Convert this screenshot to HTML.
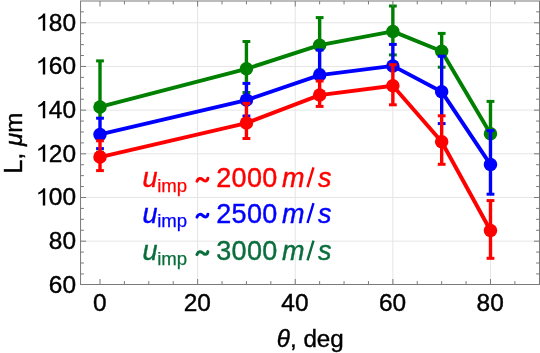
<!DOCTYPE html>
<html><head><meta charset="utf-8"><title>chart</title>
<style>html,body{margin:0;padding:0;background:#fff;}body{width:540px;height:353px;overflow:hidden;position:relative;font-family:"Liberation Sans",sans-serif;}</style></head>
<body>
<svg width="540" height="353" viewBox="0 0 540 353" style="position:absolute;left:0;top:0;will-change:transform">
<rect x="0" y="0" width="540" height="353" fill="#ffffff"/>
<g stroke="#e5e5e5" stroke-width="1" fill="none">
<line x1="197.62" y1="1.0" x2="197.62" y2="284.5"/>
<line x1="295.24" y1="1.0" x2="295.24" y2="284.5"/>
<line x1="392.86" y1="1.0" x2="392.86" y2="284.5"/>
<line x1="490.48" y1="1.0" x2="490.48" y2="284.5"/>
<line x1="80.55" y1="241.17" x2="539.5" y2="241.17"/>
<line x1="80.55" y1="197.49" x2="539.5" y2="197.49"/>
<line x1="80.55" y1="153.81" x2="539.5" y2="153.81"/>
<line x1="80.55" y1="110.13" x2="539.5" y2="110.13"/>
<line x1="80.55" y1="66.45" x2="539.5" y2="66.45"/>
<line x1="80.55" y1="22.77" x2="539.5" y2="22.77"/>
</g>
<g stroke="#008000" fill="#008000">
<path d="M100.00,106.90 L246.43,68.80 L319.64,45.20 L392.86,31.40 L441.67,51.30 L490.48,133.80" fill="none" stroke-width="3.9" stroke-linejoin="round"/>
<line x1="100.00" y1="60.90" x2="100.00" y2="119.20" stroke-width="3.4"/>
<rect x="96.10" y="59.40" width="7.8" height="3.0" stroke="none"/>
<rect x="96.10" y="150.80" width="7.8" height="3.0" stroke="none"/>
<circle cx="100.00" cy="106.90" r="6.75" stroke="none"/>
<line x1="246.43" y1="41.50" x2="246.43" y2="84.40" stroke-width="3.4"/>
<rect x="242.53" y="40.00" width="7.8" height="3.0" stroke="none"/>
<rect x="242.53" y="91.00" width="7.8" height="3.0" stroke="none"/>
<circle cx="246.43" cy="68.80" r="6.75" stroke="none"/>
<line x1="319.64" y1="17.60" x2="319.64" y2="51.00" stroke-width="3.4"/>
<rect x="315.75" y="16.10" width="7.8" height="3.0" stroke="none"/>
<rect x="315.75" y="68.60" width="7.8" height="3.0" stroke="none"/>
<circle cx="319.64" cy="45.20" r="6.75" stroke="none"/>
<line x1="392.86" y1="6.00" x2="392.86" y2="45.40" stroke-width="3.4"/>
<rect x="388.96" y="4.50" width="7.8" height="3.0" stroke="none"/>
<rect x="388.96" y="53.40" width="7.8" height="3.0" stroke="none"/>
<circle cx="392.86" cy="31.40" r="6.75" stroke="none"/>
<line x1="441.67" y1="33.40" x2="441.67" y2="57.20" stroke-width="3.4"/>
<rect x="437.77" y="31.90" width="7.8" height="3.0" stroke="none"/>
<rect x="437.77" y="65.70" width="7.8" height="3.0" stroke="none"/>
<circle cx="441.67" cy="51.30" r="6.75" stroke="none"/>
<line x1="490.48" y1="101.40" x2="490.48" y2="131.60" stroke-width="3.4"/>
<rect x="486.58" y="99.90" width="7.8" height="3.0" stroke="none"/>
<rect x="486.58" y="164.70" width="7.8" height="3.0" stroke="none"/>
<circle cx="490.48" cy="133.80" r="6.75" stroke="none"/>
</g>
<g stroke="#0000ff" fill="#0000ff">
<path d="M100.00,134.40 L246.43,100.10 L319.64,75.10 L392.86,65.90 L441.67,91.70 L490.48,164.60" fill="none" stroke-width="3.9" stroke-linejoin="round"/>
<line x1="100.00" y1="118.20" x2="100.00" y2="141.80" stroke-width="3.4"/>
<rect x="96.10" y="116.70" width="7.8" height="3.0" stroke="none"/>
<rect x="96.10" y="147.10" width="7.8" height="3.0" stroke="none"/>
<circle cx="100.00" cy="134.40" r="6.75" stroke="none"/>
<line x1="246.43" y1="83.40" x2="246.43" y2="104.40" stroke-width="3.4"/>
<rect x="242.53" y="81.90" width="7.8" height="3.0" stroke="none"/>
<rect x="242.53" y="114.50" width="7.8" height="3.0" stroke="none"/>
<circle cx="246.43" cy="100.10" r="6.75" stroke="none"/>
<line x1="319.64" y1="50.00" x2="319.64" y2="82.00" stroke-width="3.4"/>
<rect x="315.75" y="48.50" width="7.8" height="3.0" stroke="none"/>
<rect x="315.75" y="96.50" width="7.8" height="3.0" stroke="none"/>
<circle cx="319.64" cy="75.10" r="6.75" stroke="none"/>
<line x1="392.86" y1="44.40" x2="392.86" y2="65.70" stroke-width="3.4"/>
<rect x="388.96" y="42.90" width="7.8" height="3.0" stroke="none"/>
<rect x="388.96" y="85.80" width="7.8" height="3.0" stroke="none"/>
<circle cx="392.86" cy="65.90" r="6.75" stroke="none"/>
<line x1="441.67" y1="56.20" x2="441.67" y2="116.80" stroke-width="3.4"/>
<rect x="437.77" y="54.70" width="7.8" height="3.0" stroke="none"/>
<rect x="437.77" y="122.10" width="7.8" height="3.0" stroke="none"/>
<circle cx="441.67" cy="91.70" r="6.75" stroke="none"/>
<line x1="490.48" y1="130.60" x2="490.48" y2="194.20" stroke-width="3.4"/>
<rect x="486.58" y="129.10" width="7.8" height="3.0" stroke="none"/>
<rect x="486.58" y="192.70" width="7.8" height="3.0" stroke="none"/>
<circle cx="490.48" cy="164.60" r="6.75" stroke="none"/>
</g>
<g stroke="#ff0000" fill="#ff0000">
<path d="M100.00,157.10 L246.43,123.10 L319.64,95.10 L392.86,85.70 L441.67,141.80 L490.48,230.50" fill="none" stroke-width="3.9" stroke-linejoin="round"/>
<line x1="100.00" y1="140.80" x2="100.00" y2="170.60" stroke-width="3.4"/>
<rect x="96.10" y="139.30" width="7.8" height="3.0" stroke="none"/>
<rect x="96.10" y="169.10" width="7.8" height="3.0" stroke="none"/>
<circle cx="100.00" cy="157.10" r="6.75" stroke="none"/>
<line x1="246.43" y1="103.40" x2="246.43" y2="138.50" stroke-width="3.4"/>
<rect x="242.53" y="101.90" width="7.8" height="3.0" stroke="none"/>
<rect x="242.53" y="137.00" width="7.8" height="3.0" stroke="none"/>
<circle cx="246.43" cy="123.10" r="6.75" stroke="none"/>
<line x1="319.64" y1="81.00" x2="319.64" y2="106.40" stroke-width="3.4"/>
<rect x="315.75" y="79.50" width="7.8" height="3.0" stroke="none"/>
<rect x="315.75" y="104.90" width="7.8" height="3.0" stroke="none"/>
<circle cx="319.64" cy="95.10" r="6.75" stroke="none"/>
<line x1="392.86" y1="64.70" x2="392.86" y2="104.80" stroke-width="3.4"/>
<rect x="388.96" y="63.20" width="7.8" height="3.0" stroke="none"/>
<rect x="388.96" y="103.30" width="7.8" height="3.0" stroke="none"/>
<circle cx="392.86" cy="85.70" r="6.75" stroke="none"/>
<line x1="441.67" y1="115.80" x2="441.67" y2="164.30" stroke-width="3.4"/>
<rect x="437.77" y="114.30" width="7.8" height="3.0" stroke="none"/>
<rect x="437.77" y="162.80" width="7.8" height="3.0" stroke="none"/>
<circle cx="441.67" cy="141.80" r="6.75" stroke="none"/>
<line x1="490.48" y1="200.60" x2="490.48" y2="258.30" stroke-width="3.4"/>
<rect x="486.58" y="199.10" width="7.8" height="3.0" stroke="none"/>
<rect x="486.58" y="256.80" width="7.8" height="3.0" stroke="none"/>
<circle cx="490.48" cy="230.50" r="6.75" stroke="none"/>
</g>
<g stroke="#7a7a7a" stroke-width="1" fill="none">
<rect x="80.55" y="1.0" width="458.95" height="283.5"/>
<line x1="100.00" y1="284.5" x2="100.00" y2="279.0"/>
<line x1="100.00" y1="1.0" x2="100.00" y2="6.5"/>
<line x1="124.41" y1="284.5" x2="124.41" y2="281.1"/>
<line x1="124.41" y1="1.0" x2="124.41" y2="4.4"/>
<line x1="148.81" y1="284.5" x2="148.81" y2="281.1"/>
<line x1="148.81" y1="1.0" x2="148.81" y2="4.4"/>
<line x1="173.22" y1="284.5" x2="173.22" y2="281.1"/>
<line x1="173.22" y1="1.0" x2="173.22" y2="4.4"/>
<line x1="197.62" y1="284.5" x2="197.62" y2="279.0"/>
<line x1="197.62" y1="1.0" x2="197.62" y2="6.5"/>
<line x1="222.03" y1="284.5" x2="222.03" y2="281.1"/>
<line x1="222.03" y1="1.0" x2="222.03" y2="4.4"/>
<line x1="246.43" y1="284.5" x2="246.43" y2="281.1"/>
<line x1="246.43" y1="1.0" x2="246.43" y2="4.4"/>
<line x1="270.84" y1="284.5" x2="270.84" y2="281.1"/>
<line x1="270.84" y1="1.0" x2="270.84" y2="4.4"/>
<line x1="295.24" y1="284.5" x2="295.24" y2="279.0"/>
<line x1="295.24" y1="1.0" x2="295.24" y2="6.5"/>
<line x1="319.64" y1="284.5" x2="319.64" y2="281.1"/>
<line x1="319.64" y1="1.0" x2="319.64" y2="4.4"/>
<line x1="344.05" y1="284.5" x2="344.05" y2="281.1"/>
<line x1="344.05" y1="1.0" x2="344.05" y2="4.4"/>
<line x1="368.46" y1="284.5" x2="368.46" y2="281.1"/>
<line x1="368.46" y1="1.0" x2="368.46" y2="4.4"/>
<line x1="392.86" y1="284.5" x2="392.86" y2="279.0"/>
<line x1="392.86" y1="1.0" x2="392.86" y2="6.5"/>
<line x1="417.26" y1="284.5" x2="417.26" y2="281.1"/>
<line x1="417.26" y1="1.0" x2="417.26" y2="4.4"/>
<line x1="441.67" y1="284.5" x2="441.67" y2="281.1"/>
<line x1="441.67" y1="1.0" x2="441.67" y2="4.4"/>
<line x1="466.08" y1="284.5" x2="466.08" y2="281.1"/>
<line x1="466.08" y1="1.0" x2="466.08" y2="4.4"/>
<line x1="490.48" y1="284.5" x2="490.48" y2="279.0"/>
<line x1="490.48" y1="1.0" x2="490.48" y2="6.5"/>
<line x1="514.88" y1="284.5" x2="514.88" y2="281.1"/>
<line x1="514.88" y1="1.0" x2="514.88" y2="4.4"/>
<line x1="80.55" y1="273.93" x2="83.95" y2="273.93"/>
<line x1="539.5" y1="273.93" x2="536.1" y2="273.93"/>
<line x1="80.55" y1="263.01" x2="83.95" y2="263.01"/>
<line x1="539.5" y1="263.01" x2="536.1" y2="263.01"/>
<line x1="80.55" y1="252.09" x2="83.95" y2="252.09"/>
<line x1="539.5" y1="252.09" x2="536.1" y2="252.09"/>
<line x1="80.55" y1="241.17" x2="86.05" y2="241.17"/>
<line x1="539.5" y1="241.17" x2="534.0" y2="241.17"/>
<line x1="80.55" y1="230.25" x2="83.95" y2="230.25"/>
<line x1="539.5" y1="230.25" x2="536.1" y2="230.25"/>
<line x1="80.55" y1="219.33" x2="83.95" y2="219.33"/>
<line x1="539.5" y1="219.33" x2="536.1" y2="219.33"/>
<line x1="80.55" y1="208.41" x2="83.95" y2="208.41"/>
<line x1="539.5" y1="208.41" x2="536.1" y2="208.41"/>
<line x1="80.55" y1="197.49" x2="86.05" y2="197.49"/>
<line x1="539.5" y1="197.49" x2="534.0" y2="197.49"/>
<line x1="80.55" y1="186.57" x2="83.95" y2="186.57"/>
<line x1="539.5" y1="186.57" x2="536.1" y2="186.57"/>
<line x1="80.55" y1="175.65" x2="83.95" y2="175.65"/>
<line x1="539.5" y1="175.65" x2="536.1" y2="175.65"/>
<line x1="80.55" y1="164.73" x2="83.95" y2="164.73"/>
<line x1="539.5" y1="164.73" x2="536.1" y2="164.73"/>
<line x1="80.55" y1="153.81" x2="86.05" y2="153.81"/>
<line x1="539.5" y1="153.81" x2="534.0" y2="153.81"/>
<line x1="80.55" y1="142.89" x2="83.95" y2="142.89"/>
<line x1="539.5" y1="142.89" x2="536.1" y2="142.89"/>
<line x1="80.55" y1="131.97" x2="83.95" y2="131.97"/>
<line x1="539.5" y1="131.97" x2="536.1" y2="131.97"/>
<line x1="80.55" y1="121.05" x2="83.95" y2="121.05"/>
<line x1="539.5" y1="121.05" x2="536.1" y2="121.05"/>
<line x1="80.55" y1="110.13" x2="86.05" y2="110.13"/>
<line x1="539.5" y1="110.13" x2="534.0" y2="110.13"/>
<line x1="80.55" y1="99.21" x2="83.95" y2="99.21"/>
<line x1="539.5" y1="99.21" x2="536.1" y2="99.21"/>
<line x1="80.55" y1="88.29" x2="83.95" y2="88.29"/>
<line x1="539.5" y1="88.29" x2="536.1" y2="88.29"/>
<line x1="80.55" y1="77.37" x2="83.95" y2="77.37"/>
<line x1="539.5" y1="77.37" x2="536.1" y2="77.37"/>
<line x1="80.55" y1="66.45" x2="86.05" y2="66.45"/>
<line x1="539.5" y1="66.45" x2="534.0" y2="66.45"/>
<line x1="80.55" y1="55.53" x2="83.95" y2="55.53"/>
<line x1="539.5" y1="55.53" x2="536.1" y2="55.53"/>
<line x1="80.55" y1="44.61" x2="83.95" y2="44.61"/>
<line x1="539.5" y1="44.61" x2="536.1" y2="44.61"/>
<line x1="80.55" y1="33.69" x2="83.95" y2="33.69"/>
<line x1="539.5" y1="33.69" x2="536.1" y2="33.69"/>
<line x1="80.55" y1="22.77" x2="86.05" y2="22.77"/>
<line x1="539.5" y1="22.77" x2="534.0" y2="22.77"/>
<line x1="80.55" y1="11.85" x2="83.95" y2="11.85"/>
<line x1="539.5" y1="11.85" x2="536.1" y2="11.85"/>
</g>
<g font-family="'Liberation Sans', sans-serif" font-size="23.5" fill="#000" stroke="#000" stroke-width="0.4">
<text transform="translate(69.25,292.85) scale(1.04,1)" text-anchor="middle">0</text>
<text transform="translate(55.58,292.85) scale(1.04,1)" text-anchor="middle">6</text>
<text transform="translate(69.25,249.17) scale(1.04,1)" text-anchor="middle">0</text>
<text transform="translate(55.58,249.17) scale(1.04,1)" text-anchor="middle">8</text>
<text transform="translate(69.25,205.49) scale(1.04,1)" text-anchor="middle">0</text>
<text transform="translate(55.58,205.49) scale(1.04,1)" text-anchor="middle">0</text>
<path stroke="none" d="M45.21,188.29 L45.21,205.49 L42.81,205.49 L42.81,192.29 C41.51,193.29 39.91,194.09 38.31,194.59 L38.31,192.49 C40.51,191.59 42.51,190.09 43.41,188.29 Z"/>
<text transform="translate(69.25,161.81) scale(1.04,1)" text-anchor="middle">0</text>
<text transform="translate(55.58,161.81) scale(1.04,1)" text-anchor="middle">2</text>
<path stroke="none" d="M45.21,144.61 L45.21,161.81 L42.81,161.81 L42.81,148.61 C41.51,149.61 39.91,150.41 38.31,150.91 L38.31,148.81 C40.51,147.91 42.51,146.41 43.41,144.61 Z"/>
<text transform="translate(69.25,118.13) scale(1.04,1)" text-anchor="middle">0</text>
<text transform="translate(55.58,118.13) scale(1.04,1)" text-anchor="middle">4</text>
<path stroke="none" d="M45.21,100.93 L45.21,118.13 L42.81,118.13 L42.81,104.93 C41.51,105.93 39.91,106.73 38.31,107.23 L38.31,105.13 C40.51,104.23 42.51,102.73 43.41,100.93 Z"/>
<text transform="translate(69.25,74.45) scale(1.04,1)" text-anchor="middle">0</text>
<text transform="translate(55.58,74.45) scale(1.04,1)" text-anchor="middle">6</text>
<path stroke="none" d="M45.21,57.25 L45.21,74.45 L42.81,74.45 L42.81,61.25 C41.51,62.25 39.91,63.05 38.31,63.55 L38.31,61.45 C40.51,60.55 42.51,59.05 43.41,57.25 Z"/>
<text transform="translate(69.25,30.77) scale(1.04,1)" text-anchor="middle">0</text>
<text transform="translate(55.58,30.77) scale(1.04,1)" text-anchor="middle">8</text>
<path stroke="none" d="M45.21,13.57 L45.21,30.77 L42.81,30.77 L42.81,17.57 C41.51,18.57 39.91,19.37 38.31,19.87 L38.31,17.77 C40.51,16.87 42.51,15.37 43.41,13.57 Z"/>
<text transform="translate(99.70,310.50) scale(1.04,1)" text-anchor="middle">0</text>
<text transform="translate(190.48,310.50) scale(1.04,1)" text-anchor="middle">2</text>
<text transform="translate(204.16,310.50) scale(1.04,1)" text-anchor="middle">0</text>
<text transform="translate(288.11,310.50) scale(1.04,1)" text-anchor="middle">4</text>
<text transform="translate(301.77,310.50) scale(1.04,1)" text-anchor="middle">0</text>
<text transform="translate(385.73,310.50) scale(1.04,1)" text-anchor="middle">6</text>
<text transform="translate(399.39,310.50) scale(1.04,1)" text-anchor="middle">0</text>
<text transform="translate(483.35,310.50) scale(1.04,1)" text-anchor="middle">8</text>
<text transform="translate(497.01,310.50) scale(1.04,1)" text-anchor="middle">0</text>
<text x="310.3" y="346.9" font-size="24.2" text-anchor="middle"><tspan font-style="italic">θ</tspan>, deg</text>
<text transform="translate(21.7,143.2) rotate(-90)" font-size="24.2" text-anchor="middle"><tspan font-size="25.4">L</tspan>, <tspan font-style="italic">μ</tspan>m</text>
</g>
<g font-family="'Liberation Sans', sans-serif" font-size="27.0">
<g fill="#ff0000" stroke="#ff0000" stroke-width="0.4">
<text x="142.6" y="186.7" font-style="italic">u</text>
<text x="157.2" y="191.5" font-size="18.6" stroke-width="0.25">imp</text>
<path d="M197.0,181.20 C198.3,177.60 200.9,178.10 202.6,179.50 C204.6,181.60 207.2,181.90 207.9,178.30" fill="none" stroke="#ff0000" stroke-width="3.0" stroke-linecap="round"/>
<text x="216.2" y="186.7" letter-spacing="0.35">2000</text>
<text x="281.9" y="186.7" font-style="italic">m</text>
<line x1="307.5" y1="187.10" x2="313.5" y2="167.30" stroke="#ff0000" stroke-width="2.4"/>
<text x="318.1" y="186.7" font-style="italic">s</text>
</g>
<g fill="#0000ff" stroke="#0000ff" stroke-width="0.4">
<text x="142.6" y="222.6" font-style="italic">u</text>
<text x="157.2" y="227.4" font-size="18.6" stroke-width="0.25">imp</text>
<path d="M197.0,217.10 C198.3,213.50 200.9,214.00 202.6,215.40 C204.6,217.50 207.2,217.80 207.9,214.20" fill="none" stroke="#0000ff" stroke-width="3.0" stroke-linecap="round"/>
<text x="216.2" y="222.6" letter-spacing="0.35">2500</text>
<text x="281.9" y="222.6" font-style="italic">m</text>
<line x1="307.5" y1="223.00" x2="313.5" y2="203.20" stroke="#0000ff" stroke-width="2.4"/>
<text x="318.1" y="222.6" font-style="italic">s</text>
</g>
<g fill="#0a6e3c" stroke="#0a6e3c" stroke-width="0.4">
<text x="142.6" y="260.0" font-style="italic">u</text>
<text x="157.2" y="264.8" font-size="18.6" stroke-width="0.25">imp</text>
<path d="M197.0,254.50 C198.3,250.90 200.9,251.40 202.6,252.80 C204.6,254.90 207.2,255.20 207.9,251.60" fill="none" stroke="#0a6e3c" stroke-width="3.0" stroke-linecap="round"/>
<text x="216.2" y="260.0" letter-spacing="0.35">3000</text>
<text x="281.9" y="260.0" font-style="italic">m</text>
<line x1="307.5" y1="260.40" x2="313.5" y2="240.60" stroke="#0a6e3c" stroke-width="2.4"/>
<text x="318.1" y="260.0" font-style="italic">s</text>
</g>
</g>
</svg>
</body></html>
